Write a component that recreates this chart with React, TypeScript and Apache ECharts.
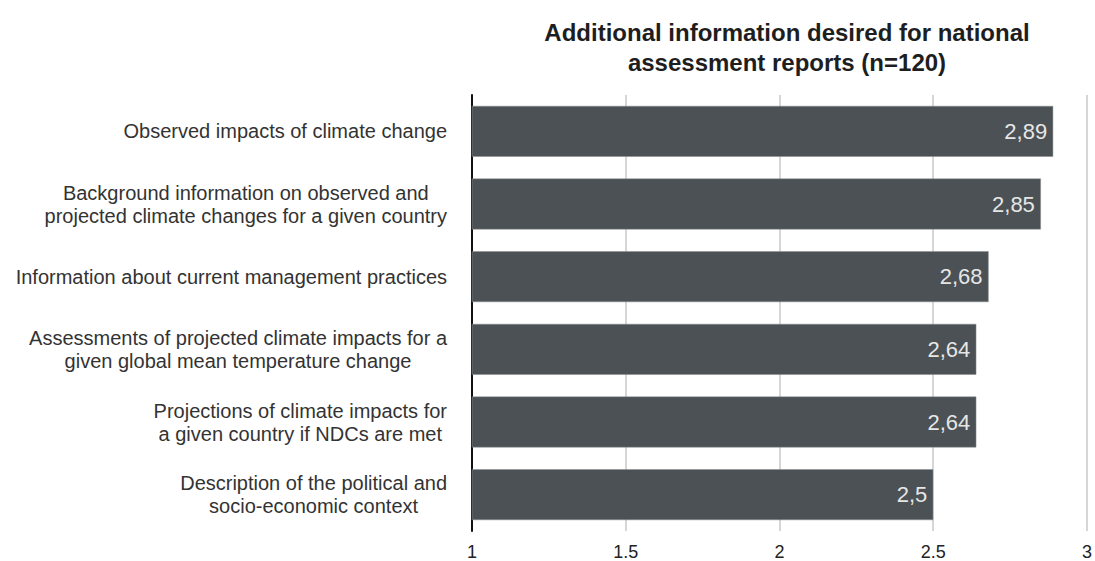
import React, { useEffect, useRef } from "react";
import * as echarts from "echarts";

const categories = [
  "Observed impacts of climate change",
  "Background information on observed and\nprojected climate changes for a given country",
  "Information about current management practices",
  "Assessments of projected climate impacts for a\ngiven global mean temperature change",
  "Projections of climate impacts for\na given country if NDCs are met",
  "Description of the political and\nsocio-economic context",
];
const values = [2.89, 2.85, 2.68, 2.64, 2.64, 2.5];
const titleText = "Additional information desired for national\nassessment reports (n=120)";

const FONT = "'Liberation Sans', Arial, Helvetica, sans-serif";

export default function App() {
  const ref = useRef<HTMLDivElement>(null);
  useEffect(() => {
    if (!ref.current) return;
    const chart = echarts.init(ref.current, undefined, { renderer: "svg" });
    chart.setOption({
      animation: false,
      backgroundColor: "#ffffff",
      title: {
        text: titleText,
        left: 782,
        textAlign: "center",
        top: 12,
        textStyle: {
          fontFamily: FONT,
          fontSize: 24,
          fontWeight: "bold",
          color: "#1e1e1e",
          lineHeight: 30,
        },
      },
      grid: { left: 472, right: 3, top: 95, bottom: 28, containLabel: false },
      xAxis: {
        type: "value",
        min: 1,
        max: 3,
        interval: 0.5,
        axisLine: { show: false },
        axisTick: { show: false },
        axisLabel: {
          margin: 12,
          fontFamily: FONT,
          fontSize: 18,
          color: "#222222",
          formatter: (v: number) => String(v),
        },
        splitLine: { show: true, lineStyle: { color: "#c8c8c8", width: 1.5 } },
      },
      yAxis: {
        type: "category",
        data: categories,
        inverse: true,
        axisTick: { show: false },
        axisLine: { show: true, lineStyle: { color: "#111111", width: 2 } },
        axisLabel: {
          margin: 25,
          fontFamily: FONT,
          fontSize: 20,
          color: "#333333",
          lineHeight: 23,
          formatter: (v: string) =>
            v
              .split("\n")
              .map((l) => "{c|" + l + "}")
              .join("\n"),
          rich: {
            c: {
              align: "center",
              fontFamily: FONT,
              fontSize: 20,
              color: "#333333",
              lineHeight: 23,
            },
          },
        },
      },
      series: [
        {
          type: "bar",
          data: values,
          barWidth: "70%",
          itemStyle: { color: "#4b5154", borderColor: "#8a8f91", borderWidth: 0.5 },
          label: {
            show: true,
            position: "insideRight",
            distance: 6,
            fontFamily: FONT,
            fontSize: 22,
            color: "#e6e6e6",
            formatter: (p: any) => String(p.value).replace(".", ","),
          },
        },
      ],
    });
    return () => chart.dispose();
  }, []);
  return (
    <div
      ref={ref}
      style={{ position: "fixed", left: 0, top: 0, width: 1095, height: 561 }}
    />
  );
}
